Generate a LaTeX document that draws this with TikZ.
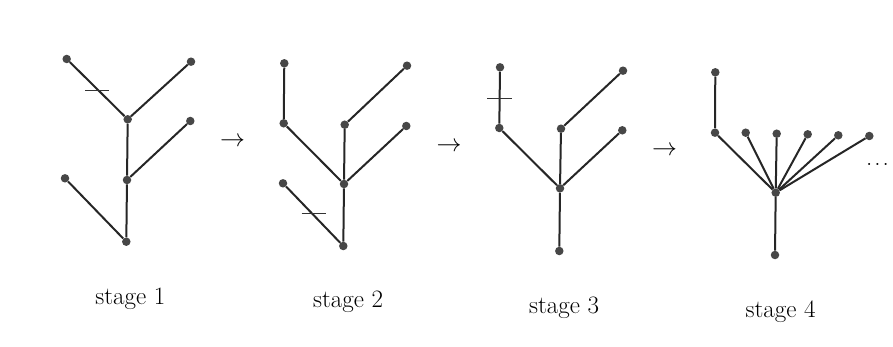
\documentclass[tikz,border=0pt]{standalone}
\usetikzlibrary{positioning}

\begin{document}
\begin{tikzpicture}[x=1pt,y=-1pt,
    vert/.style={circle,fill=black!72,inner sep=0pt,minimum size=8.5pt},
    edge/.style={line width=2pt,black!85},
    cut/.style={line width=0.9pt,black!80},
    lbl/.style={font=\fontsize{25}{30}\selectfont,anchor=base}]
    \useasboundingbox (0,0) rectangle (893,347);
    % stage 1
    \node[vert] (a1) at (66.7,59) {};
    \node[vert] (a2) at (191,61.7) {};
    \node[vert] (a3) at (127.7,119.3) {};
    \node[vert] (a4) at (190.3,121) {};
    \node[vert] (a5) at (127,180) {};
    \node[vert] (a6) at (65,178.3) {};
    \node[vert] (a7) at (126.3,241.7) {};
    \draw[edge] (a1) -- (a3) (a2) -- (a3) (a3) -- (a5) (a4) -- (a5)
        (a5) -- (a7) (a6) -- (a7);
    \draw[cut] (85,90) -- (109,90);
    \node[lbl] (s1) at (130.3,304) {stage 1};
    \node[lbl] (r1) at (232.5,147) {$\rightarrow$};
    % stage 2
    \node[vert] (b1) at (284.3,63.3) {};
    \node[vert] (b2) at (283.7,123.3) {};
    \node[vert] (b3) at (407,65.7) {};
    \node[vert] (b4) at (344.7,124.7) {};
    \node[vert] (b5) at (406.3,126) {};
    \node[vert] (b6) at (344,184) {};
    \node[vert] (b7) at (283,183.3) {};
    \node[vert] (b8) at (343.3,246) {};
    \draw[edge] (b1) -- (b2) (b2) -- (b6) (b3) -- (b4) (b4) -- (b6)
        (b5) -- (b6) (b6) -- (b8) (b7) -- (b8);
    \draw[cut] (301.7,213.7) -- (325.7,213.7);
    \node[lbl] (s2) at (348,307.7) {stage 2};
    \node[lbl] (r2) at (449,151.7) {$\rightarrow$};
    % stage 3
    \node[vert] (c1) at (500,67.3) {};
    \node[vert] (c2) at (499.3,128) {};
    \node[vert] (c3) at (623,70.7) {};
    \node[vert] (c4) at (561,128.7) {};
    \node[vert] (c5) at (622.3,130.3) {};
    \node[vert] (c6) at (560,188.3) {};
    \node[vert] (c7) at (559.3,251) {};
    \draw[edge] (c1) -- (c2) (c2) -- (c6) (c3) -- (c4) (c4) -- (c6)
        (c5) -- (c6) (c6) -- (c7);
    \draw[cut] (487.3,98) -- (511.7,98);
    \node[lbl] (s3) at (564,313) {stage 3};
    \node[lbl] (r3) at (664.5,155.7) {$\rightarrow$};
    % stage 4
    \node[vert] (d1) at (715.3,72.3) {};
    \node[vert] (d2) at (715,132.7) {};
    \node[vert] (d3) at (775.7,192.7) {};
    \node[vert] (d4) at (775,255) {};
    \draw[edge] (d1) -- (d2) (d2) -- (d3) (d3) -- (d4);
    \foreach \x/\y [count=\k] in {745.7/132.7,776.7/133.7,807.7/134.3,838.3/135.3,869.3/136} {
        \node[vert] (e\k) at (\x,\y) {};
        \draw[edge] (e\k) -- (d3);
    }
    \node[lbl] (s4) at (780.5,317.3) {stage 4};
    \node[lbl,anchor=base west,inner sep=0pt] (more) at (866,166) {.\hspace{2pt}.\hspace{2pt}.};
\end{tikzpicture}
\end{document}
